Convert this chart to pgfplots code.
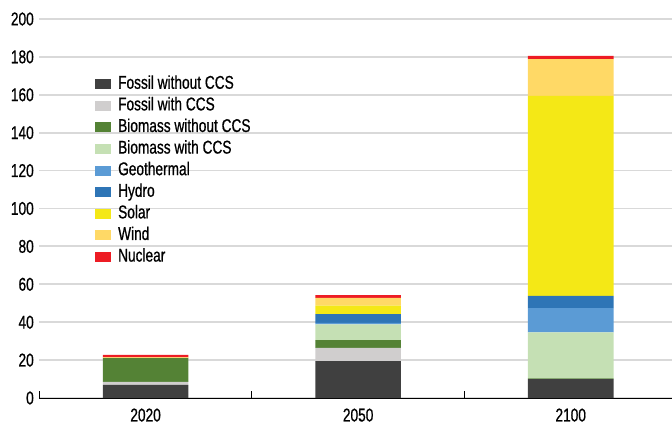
\documentclass[border=0pt]{standalone}
\usepackage{fontspec}
\setmainfont{Liberation Sans}[FakeStretch=0.74, FakeBold=0.7]
\usepackage{pgfplots}
\pgfplotsset{compat=1.18}
\definecolor{cFos}{HTML}{404040}
\definecolor{cFosC}{HTML}{D0CECE}
\definecolor{cBio}{HTML}{548235}
\definecolor{cBioC}{HTML}{C5E0B4}
\definecolor{cGeo}{HTML}{5B9BD5}
\definecolor{cHyd}{HTML}{2E75B6}
\definecolor{cSol}{HTML}{F4E816}
\definecolor{cWin}{HTML}{FFD966}
\definecolor{cNuc}{HTML}{ED1C24}
\definecolor{cGrid}{HTML}{D9D9D9}
\begin{document}
\begin{tikzpicture}
\useasboundingbox (-39.3pt,-33pt) rectangle (632.7pt,398pt);
\begin{axis}[
  scale only axis, width=637.7pt, height=379pt,
  xmin=-0.5, xmax=2.5, ymin=0, ymax=200,
  ybar stacked, bar width=0.403,
  separate axis lines,
  axis x line*=bottom, axis y line*=left,
  y axis line style={draw=none},
  x axis line style={black, line width=0.8pt},
  ytick={0,20,...,200},
  ytick style={draw=none},
  ymajorgrids, grid style={cGrid, line width=1.8pt},
  xtick={-0.5,0.5,1.5,2.5}, xticklabels={},
  xtick style={black, line width=0.8pt},
  tick align=inside, major tick length=7pt,
  extra x ticks={0,1,2}, extra x tick labels={2020,2050,2100},
  extra x tick style={major tick length=0pt, xtick style={draw=none},
    tick label style={yshift=-7pt}},
  tick label style={font=\fontsize{18.5}{21}\selectfont},
  y tick label style={xshift=-2pt},
  /pgf/number format/assume math mode=true,
  legend style={draw=none, fill=none, at={(0.0873,0.856)}, anchor=north west,
    font=\fontsize{18.5}{21}\selectfont, row sep=0.6pt, inner sep=0pt,
    nodes={text height=13pt, text depth=4pt, inner sep=2pt},
    /tikz/every odd column/.append style={column sep=5pt}},
  legend cell align=left,
  legend image code/.code={\fill[#1] (0pt,-5pt) rectangle (16pt,5pt);},
]
\addplot[fill=cFos, draw=none] coordinates {(0,6.9) (1,19.5) (2,10.0)};
\addplot[fill=cFosC, draw=none] coordinates {(0,1.6) (1,7.0) (2,0)};
\addplot[fill=cBio, draw=none] coordinates {(0,12.5) (1,4.1) (2,0.3)};
\addplot[fill=cBioC, draw=none] coordinates {(0,0) (1,8.3) (2,24.3)};
\addplot[fill=cGeo, draw=none] coordinates {(0,0) (1,0.8) (2,12.8)};
\addplot[fill=cHyd, draw=none] coordinates {(0,0) (1,4.6) (2,6.5)};
\addplot[fill=cSol, draw=none] coordinates {(0,0.2) (1,4.4) (2,105.5)};
\addplot[fill=cWin, draw=none] coordinates {(0,0.3) (1,4.2) (2,19.4)};
\addplot[fill=cNuc, draw=none] coordinates {(0,1.3) (1,1.4) (2,1.7)};
\legend{Fossil without CCS, Fossil with CCS, Biomass without CCS, Biomass with CCS, Geothermal, Hydro, Solar, Wind, Nuclear}
\end{axis}
\end{tikzpicture}
\end{document}
